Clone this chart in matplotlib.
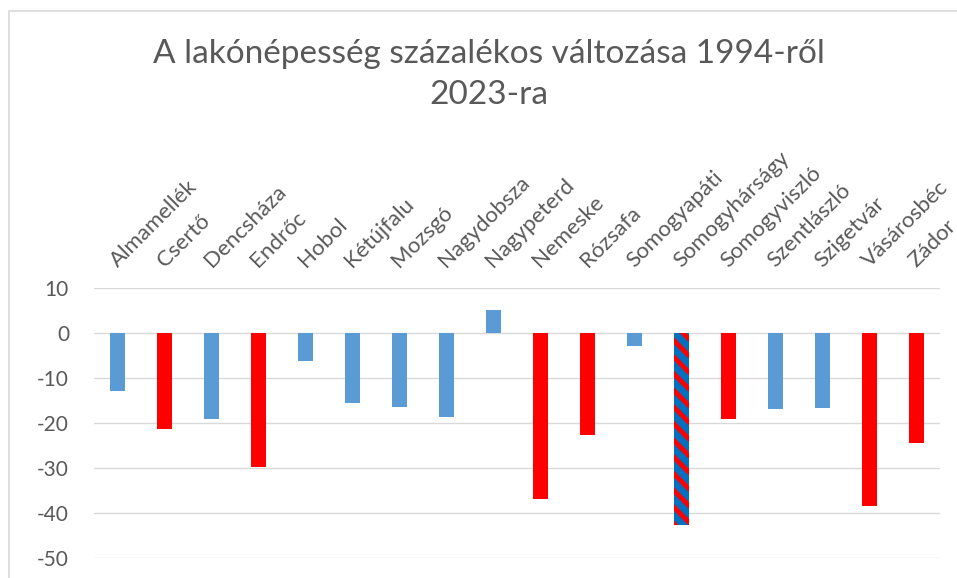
import matplotlib
matplotlib.use('Agg')
import matplotlib.pyplot as plt
import matplotlib.transforms as mtransforms
from matplotlib.patches import Rectangle

plt.rcParams['font.family'] = ['Lato', 'DejaVu Sans']
plt.rcParams['hatch.linewidth'] = 3.5
plt.rcParams['axes.unicode_minus'] = False

telepulesek = ['Almamellék', 'Csertő', 'Dencsháza', 'Endrőc', 'Hobol', 'Kétújfalu',
               'Mozsgó', 'Nagydobsza', 'Nagypeterd', 'Nemeske', 'Rózsafa', 'Somogyapáti',
               'Somogyhárságy', 'Somogyviszló', 'Szentlászló', 'Szigetvár', 'Vásárosbéc', 'Zádor']
valtozas = [-13.0, -21.3, -19.1, -29.8, -6.3, -15.7, -16.4, -18.8, 5.0, -36.9,
            -22.7, -3.0, -42.7, -19.1, -17.0, -16.7, -38.4, -24.4]
# 'b' = kék, 'r' = piros, 'h' = csíkos
csoport = ['b', 'r', 'b', 'r', 'b', 'b', 'b', 'b', 'b', 'r',
           'r', 'b', 'h', 'r', 'b', 'b', 'r', 'r']

szin = {'b': '#5B9BD5', 'r': '#FF0000', 'h': '#0070C0'}
grey = '#595959'

fig = plt.figure(figsize=(9.57, 5.78), dpi=100)
ax = fig.add_axes([94 / 957, 20 / 578, 846 / 957, 270.3 / 578])

x = list(range(len(telepulesek)))
for i, v, c in zip(x, valtozas, csoport):
    if c == 'h':
        ax.bar(i, v, width=0.31, color=szin[c], edgecolor='#FF0000', hatch='\\\\',
               linewidth=0, zorder=3)
    else:
        ax.bar(i, v, width=0.31, color=szin[c], linewidth=0, zorder=3)

ax.set_xlim(-0.5, len(telepulesek) - 0.5)
ax.set_ylim(-50, 10)
ax.set_yticks(range(-50, 11, 10))
ax.yaxis.grid(True, color='#D9D9D9', linewidth=1.0, zorder=0)
ax.set_axisbelow(True)
for s in ax.spines.values():
    s.set_visible(False)

ax.xaxis.tick_top()
ax.set_xticks(x)
ax.set_xticklabels(telepulesek, rotation=45, ha='left', va='baseline',
                   rotation_mode='anchor', fontsize=16, color=grey)
shift = mtransforms.ScaledTranslation(8 / 100, 0, fig.dpi_scale_trans)
for lab in ax.get_xticklabels():
    lab.set_transform(lab.get_transform() + shift)
ax.tick_params(axis='x', length=0, pad=14)
ax.tick_params(axis='y', length=0, pad=18, labelsize=15, labelcolor=grey)

fig.text(488.5 / 957, 1 - 63 / 578, 'A lakónépesség százalékos változása 1994-ről',
         ha='center', va='baseline', fontsize=24, color=grey)
fig.text(489 / 957, 1 - 104 / 578, '2023-ra',
         ha='center', va='baseline', fontsize=24, color=grey)

fig.patches.append(Rectangle((9 / 957, -0.1), 1.2, 1.1 - 11 / 578, transform=fig.transFigure,
                             fill=False, edgecolor='#D9D9D9', linewidth=1.2))

fig.savefig('out.png', dpi=100)
